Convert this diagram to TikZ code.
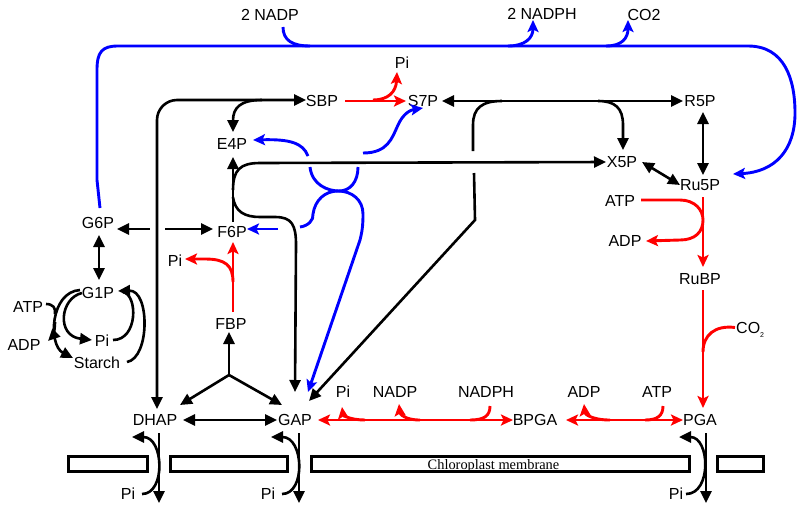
\documentclass[tikz,border=0pt]{standalone}
\usepackage{fontspec}
\setmainfont{Liberation Sans}
\newfontfamily\memfont{Liberation Serif}
\usetikzlibrary{arrows.meta,calc}
\begin{document}
\begin{tikzpicture}[x=1pt,y=-1pt,
  lbl/.style={inner sep=0pt,text height=11.5pt,text depth=0pt,anchor=center,font=\fontsize{16}{16}\selectfont},
  blk/.style={line width=2.6pt,black},
  blu/.style={line width=2.9pt,blue},
  rd/.style={line width=2.9pt,red},
  memb/.style={line width=3pt,fill=white},
  ba/.style={-{Triangle[length=12pt,width=11pt]}},
  bba/.style={{Triangle[length=12pt,width=11pt]}-{Triangle[length=12pt,width=11pt]}},
  ca/.style={-{Stealth[length=12pt,width=11pt,inset=2.5pt]}},
  cca/.style={{Stealth[length=12pt,width=11pt,inset=2.5pt]}-{Stealth[length=12pt,width=11pt,inset=2.5pt]}},
]
\useasboundingbox (0,0) rectangle (799,504);

% ---------- labels ----------
\node[lbl] (nadp2) at (270,15) {2 NADP};
\node[lbl] (nadph2) at (542,14) {2 NADPH};
\node[lbl] (co2t) at (644,15) {CO2};
\node[lbl] (SBP) at (322,101) {SBP};
\node[lbl] (S7P) at (423,101) {S7P};
\node[lbl] (piS) at (402,63) {Pi};
\node[lbl] (R5P) at (700,101) {R5P};
\node[lbl] (E4P) at (232,144) {E4P};
\node[lbl] (X5P) at (622,162) {X5P};
\node[lbl] (Ru5P) at (700,185) {Ru5P};
\node[lbl] (G6P) at (98,223) {G6P};
\node[lbl] (F6P) at (232,232) {F6P};
\node[lbl] (piF) at (175,261) {Pi};
\node[lbl] (G1P) at (98,293) {G1P};
\node[lbl] (atpL) at (28,307) {ATP};
\node[lbl] (adpL) at (24,345) {ADP};
\node[lbl] (piG) at (102,341) {Pi};
\node[lbl] (starch) at (97,363) {Starch};
\node[lbl] (FBP) at (231,324) {FBP};
\node[lbl] (atpR) at (620,201) {ATP};
\node[lbl] (adpR) at (625,241) {ADP};
\node[lbl] (RuBP) at (700,279) {RuBP};
\node[lbl,anchor=west] (co2r) at (736,327.5) {CO\raisebox{-4pt}{\fontsize{7}{7}\selectfont 2}};
\node[lbl] (DHAP) at (155,420) {DHAP};
\node[lbl] (GAP) at (295,420) {GAP};
\node[lbl] (piR) at (343,392) {Pi};
\node[lbl] (nadpB) at (395,392) {NADP};
\node[lbl] (nadphB) at (486,392) {NADPH};
\node[lbl] (BPGA) at (535,420) {BPGA};
\node[lbl] (adpB) at (584,392) {ADP};
\node[lbl] (atpB) at (657,392) {ATP};
\node[lbl] (PGA) at (700,420) {PGA};
\node[lbl] (piD) at (128,494) {Pi};
\node[lbl] (piGp) at (268,494) {Pi};
\node[lbl] (piP) at (676,494) {Pi};

% ---------- membrane ----------
\draw[memb] (68.5,456.5) rectangle (147.5,471.5);
\draw[memb] (170.5,456.5) rectangle (287.5,471.5);
\draw[memb] (311.5,456.5) rectangle (689.5,471.5);
\draw[memb] (717.5,456.5) rectangle (763.5,471.5);
\node[font=\memfont\fontsize{14.4}{14.4}\selectfont,anchor=base,inner sep=0pt] (mlabel) at (493.5,469) {Chloroplast membrane};

% ---------- transporters ----------
\draw[blk,ba] ($(DHAP)+(4,13)$) -- (159,503);
\draw[blk,ba] ($(piD)+(14,0)$) .. controls (166,494) and (164,437) .. ($(DHAP)+(-23,17)$);
\draw[blk,ba] ($(GAP)+(4,13)$) -- (299,503);
\draw[blk,ba] ($(piGp)+(14,0)$) .. controls (306,494) and (304,437) .. ($(GAP)+(-24,17)$);
\draw[blk,ba] ($(PGA)+(6,13)$) -- (706,503);
\draw[blk,ba] ($(piP)+(10,0)$) .. controls (712,494) and (710,437) .. ($(PGA)+(-21,17)$);

% ---------- black reactions ----------
\draw[blk,bba] ($(DHAP)+(28,0)$) -- ($(GAP)+(-18,0)$);
\coordinate (fbpj) at (229,375);
\draw[blk,ba] (fbpj) -- ($(FBP)+(-2,8)$);
\draw[blk,ba] (fbpj) -- ($(DHAP)+(25,-15)$);
\draw[blk,ba] (fbpj) -- ($(GAP)+(-13,-15)$);
% aldolase DHAP + E4P <-> SBP
\draw[blk,bba,rounded corners=20pt] ($(DHAP)+(2,-11)$) -- (157,100) -- ($(SBP)+(-16,-1)$);
\draw[blk,ba] (262,100) .. controls (240,100) and (233,108) .. ($(E4P)+(1,-12)$);
% F6P -> E4P, X5P, GAP
\draw[blk,ba] ($(F6P)+(1,-10)$) -- ($(E4P)+(1,13)$);
\draw[blk,ba] (233,190) .. controls (233,170) and (240,163) .. (260,163) -- ($(X5P)+(-16,0)$);
\draw[blk,ba] (233,197) .. controls (235,212) and (245,217) .. (260,217) -- (275,217)
   .. controls (292,217) and (296,225) .. (296,245) -- ($(GAP)+(0,-28)$);
% G6P <-> F6P (bridged)
\draw[blk,{Triangle[length=12pt,width=11pt]}-] ($(G6P)+(19,6)$) -- (150,229);
\draw[blk,ba] (165,229) -- ($(F6P)+(-19,-3)$);
% G6P <-> G1P
\draw[blk,bba] ($(G6P)+(1,12)$) -- ($(G1P)+(1,-13)$);
% S7P <-> R5P
\draw[blk,bba] ($(S7P)+(19,0)$) -- ($(R5P)+(-17,0)$);
\draw[blk,ba] (598,101) .. controls (615,101) and (623,108) .. (623,125) -- ($(X5P)+(1,-12)$);
\draw[blk] (502,101) .. controls (482,101) and (473,108) .. (473,125) -- (473,151);
\draw[blk,ba] (474,173) -- (475,220) -- ($(GAP)+(14,-19)$);
% R5P <-> Ru5P, X5P <-> Ru5P
\draw[blk,bba] ($(R5P)+(3,11)$) -- ($(Ru5P)+(3,-10)$);
\draw[blk,bba] ($(X5P)+(20,0)$) -- ($(Ru5P)+(-20,0)$);
% G1P / starch
\draw[blk,ba] ($(G1P)+(-16,0)$) .. controls (60,298) and (56,336) .. ($(piG)+(-10,-1)$);
\draw[blk,ba] ($(G1P)+(-18,-3)$) .. controls (50,292) and (48,345) .. ($(starch)+(-24,-5)$);
\draw[blk] ($(atpL)+(18,-3)$) .. controls (53,304) and (56,308) .. (55,314);
\draw[blk,ba] (55,322) .. controls (55,332) and (52,337) .. ($(adpL)+(24,-4)$);
\draw[blk,ba] ($(starch)+(30,-1)$) .. controls (150,358) and (150,290) .. ($(G1P)+(20,-2)$);
\draw[blk] ($(piG)+(11,-1)$) .. controls (138,340) and (138,295) .. (123,292);

% ---------- blue ----------
\draw[blu,ca] ($(G6P)+(2,-15)$) -- (97,180) -- (97,70) .. controls (97,52) and (102,46) .. (118,46)
   -- (748,46) .. controls (785,46) and (795,80) .. (795,113)
   .. controls (795,150) and (775,172) .. ($(Ru5P)+(33,-11)$);
\draw[blu] ($(nadp2)+(13,12)$) .. controls (283,40) and (292,46) .. (310,46);
\draw[blu,ca] (508,46) .. controls (525,46) and (533,38) .. ($(nadph2)+(-9,6)$);
\draw[blu,ca] (606,46) .. controls (622,46) and (628,38) .. ($(co2t)+(-16,5)$);
% transketolase / transaldolase
\draw[blu,ca] (278,229) -- ($(F6P)+(15,-3)$);
\draw[blu,ca] (300,227) .. controls (308,226) and (314,220) .. (313,214)
   .. controls (315,200) and (325,191) .. (338,191)
   .. controls (352,191) and (363,200) .. (363,214)
   .. controls (363,226) and (362,232) .. (360,240) -- ($(GAP)+(13,-28)$);
\draw[blu,ca] (308,156) .. controls (303,143) and (290,139) .. ($(E4P)+(21,-4)$);
\draw[blu] (310,167) .. controls (312,185) and (328,191) .. (339,191)
   .. controls (350,191) and (358,182) .. (358,167);
\draw[blu,ca] (363,153) .. controls (388,153) and (392,138) .. (398,125)
   .. controls (403,114) and (410,110) .. ($(S7P)+(0,7)$);

% ---------- red ----------
\draw[rd,ca] ($(SBP)+(23,0)$) -- ($(S7P)+(-17,0)$);
\draw[rd,ca] (373,100) .. controls (388,100) and (396,92) .. ($(piS)+(-5,9)$);
\draw[rd,ca] ($(FBP)+(2,-12)$) -- ($(F6P)+(1,10)$);
\draw[rd,ca] (233,282) .. controls (233,265) and (225,259) .. (205,259) -- ($(piF)+(10,-2)$);
\draw[rd,ca] ($(Ru5P)+(3,12)$) -- ($(RuBP)+(3,-12)$);
\draw[rd,ca] ($(atpR)+(21,-1)$) -- (680,200) .. controls (695,200) and (703,210) .. (703,220)
   .. controls (703,232) and (695,240) .. (680,240) -- ($(adpR)+(21,0)$);
\draw[rd,ca] ($(RuBP)+(3,11)$) -- ($(PGA)+(3,-12)$);
\draw[rd] ($(co2r.west)+(-1,0)$) .. controls (715,325) and (703,335) .. (703,352);
\draw[rd,cca] ($(GAP)+(23,0)$) -- ($(BPGA)+(-22,0)$);
\draw[rd,ca] (365,420) .. controls (350,420) and (343,415) .. ($(piR)+(-1,15)$);
\draw[rd,ca] (420,420) .. controls (405,420) and (400,414) .. ($(nadpB)+(4,12)$);
\draw[rd] ($(nadphB)+(4,14)$) .. controls (490,416) and (484,420) .. (470,420);
\draw[rd,cca] ($(BPGA)+(31,0)$) -- ($(PGA)+(-17,0)$);
\draw[rd,ca] (610,420) .. controls (592,420) and (585,414) .. ($(adpB)+(0,12)$);
\draw[rd] ($(atpB)+(6,14)$) .. controls (663,416) and (657,420) .. (645,420);
\end{tikzpicture}
\end{document}
